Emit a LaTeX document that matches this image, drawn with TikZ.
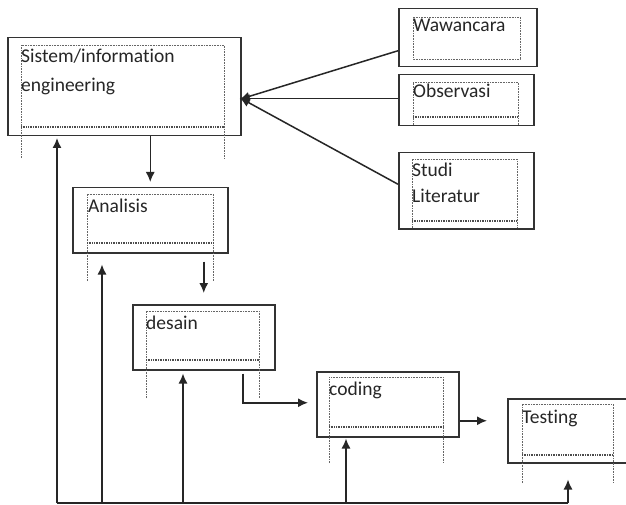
\documentclass[tikz,border=0pt]{standalone}
\usepackage{fontspec}
\setmainfont[RawFeature={-liga;-clig}]{Carlito}
\usetikzlibrary{arrows.meta}
\begin{document}
\begin{tikzpicture}[x=1pt,y=-1pt,
  obox/.style={draw=black!80, line width=1.5pt, fill=none, inner sep=0pt, anchor=north west},
  innerln/.style={draw=black!60, line width=0.8pt, dash pattern=on 0.8pt off 0.8pt},
  wavy/.style={draw=black!70, line width=2.4pt, dash pattern=on 1pt off 0.7pt},
  lbl/.style={anchor=base west, inner sep=0pt, text=black!85, font=\fontsize{19.5}{23}\selectfont},
  conn/.style={draw=black!85, line width=1.5pt},
  arr/.style={conn, -{Latex[length=10pt,width=9pt]}}]
\clip (0,0) rectangle (626,505);
\fill[white] (0,0) rectangle (626,505);

% ---- Sistem/information engineering
\node[obox, minimum width=233pt, minimum height=98pt] (sis) at (7,37) {};
\draw[innerln] (21,158) -- (21,45) -- (224,45) -- (224,158);
\draw[wavy] (21,127) -- (224,127);
\node[lbl] (tsis1) at (21,63) {Sistem/information};
\node[lbl] (tsis2) at (21,92) {engineering};

% ---- Wawancara
\node[obox, minimum width=138pt, minimum height=58pt] (waw) at (398,8) {};
\draw[innerln] (413,17) rectangle (520,59);
\node[lbl] (twaw) at (413,32) {Wawancara};

% ---- Observasi
\node[obox, minimum width=135pt, minimum height=51pt] (obs) at (398,74) {};
\draw[innerln] (413,125) -- (413,82) -- (518,82) -- (518,125);
\draw[wavy] (413,117) -- (518,117);
\node[lbl] (tobs) at (413,98) {Observasi};

% ---- Studi Literatur
\node[obox, minimum width=135pt, minimum height=76pt] (stu) at (398,152) {};
\draw[innerln] (412,228) -- (412,159) -- (517,159) -- (517,228);
\draw[wavy] (412,221) -- (517,221);
\node[lbl] (tstu1) at (412,177) {Studi};
\node[lbl] (tstu2) at (412,203) {Literatur};

% ---- Analisis
\node[obox, minimum width=155pt, minimum height=65pt] (ana) at (72,187) {};
\draw[innerln] (87,281) -- (87,194) -- (213,194) -- (213,281);
\draw[wavy] (87,243) -- (213,243);
\node[lbl] (tana) at (88,212) {Analisis};

% ---- desain
\node[obox, minimum width=142pt, minimum height=65pt] (des) at (132,304) {};
\draw[innerln] (146,398) -- (146,311) -- (259,311) -- (259,398);
\draw[wavy] (146,360) -- (259,360);
\node[lbl] (tdes) at (146,329) {desain};

% ---- coding
\node[obox, minimum width=142pt, minimum height=65pt] (cod) at (316,371) {};
\draw[innerln] (329,463) -- (329,377) -- (443,377) -- (443,463);
\draw[wavy] (329,427) -- (443,427);
\node[lbl] (tcod) at (329,395) {coding};

% ---- Testing
\node[obox, minimum width=125pt, minimum height=64pt] (tes) at (507,398) {};
\draw[innerln] (522,483) -- (522,404) -- (613,404) -- (613,483);
\draw[wavy] (522,455) -- (613,455);
\node[lbl] (ttes) at (522,423) {Testing};

% ---- inputs to Sistem
\coordinate (tip) at ([yshift=-12pt]sis.east);
\draw[arr, shorten >=-2pt] ([yshift=-13pt]waw.west) -- (tip);
\draw[arr, shorten >=-2pt] ([yshift=1.5pt]obs.west) -- (tip);
\draw[arr, shorten >=-2pt] ([yshift=6.5pt]stu.west) -- (tip);

% ---- forward flow
\draw[arr, shorten >=5pt] (sis.south -| ana.north) -- (ana.north);
\draw[arr, shorten <=8pt, shorten >=11pt] (ana.south -| des.north) -- (des.north);
\draw[arr, shorten <=3pt, shorten >=8pt] ([xshift=39pt]des.south) |- ([yshift=1.5pt]cod.west);
\draw[arr, shorten >=20pt] ([yshift=-16.5pt]cod.east) -- ([yshift=-16.5pt]cod.east -| tes.west);

% ---- feedback
\coordinate (b0) at (57,503);
\coordinate (b1) at (102,503);
\coordinate (b2) at (183,503);
\coordinate (b3) at (346,503);
\coordinate (b4) at (568,503);
\draw[conn] (b0) -- (b4);
\draw[arr, shorten >=1.5pt] (b0) -- (b0 |- sis.south);
\draw[arr, shorten >=11pt] (b1) -- (b1 |- ana.south);
\draw[arr, shorten >=3pt] (b2) -- (b2 |- des.south);
\draw[arr, shorten >=1pt] (b3) -- (b3 |- cod.south);
\draw[arr, shorten >=16pt] (b4) -- (b4 |- tes.south);
\end{tikzpicture}
\end{document}
